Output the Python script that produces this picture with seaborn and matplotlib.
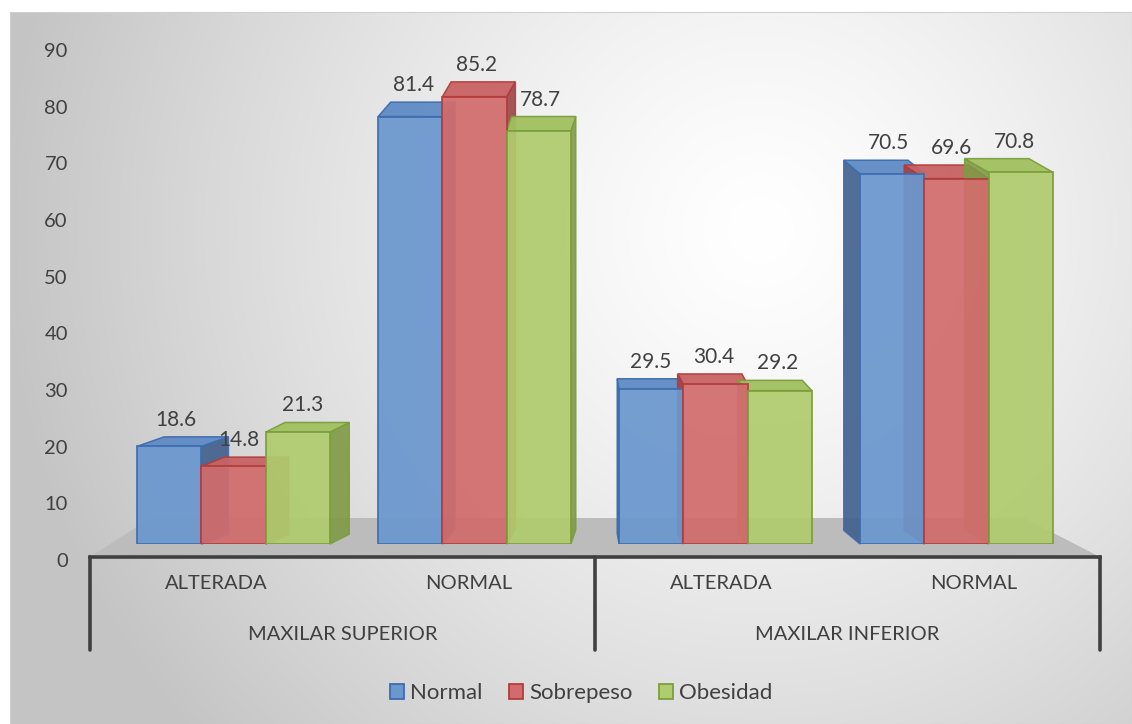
import matplotlib.pyplot as plt
import seaborn as sns
import numpy as np
import pandas as pd
from matplotlib.patches import Polygon, Patch

# Data
grupos = ['MAXILAR SUPERIOR', 'MAXILAR INFERIOR']
estados = ['ALTERADA', 'NORMAL']
series = ['Normal', 'Sobrepeso', 'Obesidad']
normal = [18.6, 81.4, 29.5, 70.5]
sobrepeso = [14.8, 85.2, 30.4, 69.6]
obesidad = [21.3, 78.7, 29.2, 70.8]

caras = ['#6A97CE', '#D26C6C', '#AFCC6E']
bordes = ['#3D6CB0', '#B23C3C', '#7B9F3B']
topes = ['#5F8BC4', '#C86262', '#A1C060']
lados = ['#3F5F8C', '#9E4444', '#7F9A45']
gris_txt = '#404040'

sns.set_style('white')
plt.rcParams['font.family'] = ['Lato', 'DejaVu Sans']
FS = 14.5

cats = [f'{g}|{e}' for g in grupos for e in estados]
df = pd.DataFrame({
    'cat': cats * 3,
    'serie': np.repeat(series, len(cats)),
    'valor': normal + sobrepeso + obesidad,
})

W, H = 1132, 724
fig = plt.figure(figsize=(W / 100, H / 100), dpi=100)

# ---------------------------------------------------------
# background with soft radial gradient
# ---------------------------------------------------------
bg = fig.add_axes([10 / W, 0, (W - 10) / W, (H - 12) / H])
yy, xx = np.mgrid[0:H - 12, 0:W - 10]
r = np.clip(np.hypot(xx - 750, yy - 218) / 760, 0, 1)
g = 1 - 0.23 * r ** 1.3
bg.imshow(np.dstack([g, g, g]), aspect='auto', interpolation='bilinear')
bg.set_xticks([])
bg.set_yticks([])
for s in bg.spines.values():
    s.set_color('#d0d0d0')

# ---------------------------------------------------------
# value axis + category axis
# ---------------------------------------------------------
ax_t = fig.add_axes([90 / W, (H - 560) / H, 1010 / W, 510 / H], facecolor='none')
ax_t.set_ylim(0, 90)
ax_t.set_xlim(0, 4)
ax_t.set_yticks(range(0, 91, 10))
ax_t.set_xticks([0.5, 1.5, 2.5, 3.5])
ax_t.set_xticklabels(estados * 2)
ax_t.tick_params(axis='y', length=0, pad=16, labelsize=FS, labelcolor=gris_txt)
ax_t.tick_params(axis='x', length=0, pad=11, labelsize=FS, labelcolor=gris_txt)
for s in ax_t.spines.values():
    s.set_visible(False)

tr = ax_t.get_xaxis_transform()
y_eje, y_fin = 3 / 510, -90 / 510
piso = Polygon([(0, y_eje), (0.24, 42 / 510), (3.70, 42 / 510), (4, y_eje)],
               closed=True, transform=tr, facecolor='#bcbcbc', edgecolor='none',
               clip_on=False, zorder=0)
ax_t.add_patch(piso)
ax_t.plot([0, 4], [y_eje, y_eje], transform=tr, color=gris_txt, lw=2.6,
          clip_on=False, solid_capstyle='projecting')
for xv in [0, 2, 4]:
    ax_t.plot([xv, xv], [y_eje, y_fin], transform=tr, color=gris_txt, lw=2.6,
              clip_on=False)
for i, gname in enumerate(grupos):
    ax_t.text(1 + 2 * i, -74 / 510, gname, transform=tr, ha='center', va='center',
              fontsize=FS, color=gris_txt)

# ---------------------------------------------------------
# bars (front faces from seaborn, depth faces derived from them)
# ---------------------------------------------------------
ax_b = fig.add_axes([113 / W, (H - 544) / H, 964 / W, 494 / H], facecolor='none')
sns.barplot(data=df, x='cat', y='valor', hue='serie', hue_order=series,
            order=cats, palette=caras, width=0.8, ax=ax_b, legend=False,
            saturation=1, zorder=3)
ax_b.set_xlim(-0.5, 3.5)
ax_b.set_ylim(0, 494 / 5.25)
ax_b.axis('off')

px_x = 964 / 4.0
px_y = 5.25
for k, cont in enumerate(ax_b.containers):
    for p in cont:
        x0, w, h = p.get_x(), p.get_width(), p.get_height()
        p.set_edgecolor(bordes[k])
        p.set_linewidth(1.3)
        p.set_alpha(0.93)
        xc = 113 + (x0 + w / 2 + 0.5) * px_x
        dx_px = 0.06 * (620 - xc)
        dy_px = 8 + 0.08 * h
        ddx, ddy = dx_px / px_x, dy_px / px_y
        top = [(x0, h), (x0 + w, h), (x0 + w + ddx, h + ddy), (x0 + ddx, h + ddy)]
        if ddx > 0:
            side = [(x0 + w, 0), (x0 + w + ddx, ddy), (x0 + w + ddx, h + ddy), (x0 + w, h)]
        else:
            side = [(x0, 0), (x0 + ddx, ddy), (x0 + ddx, h + ddy), (x0, h)]
        ax_b.add_patch(Polygon(side, closed=True, facecolor=lados[k],
                               edgecolor=bordes[k], lw=1.1, alpha=0.9,
                               zorder=2, clip_on=False))
        ax_b.add_patch(Polygon(top, closed=True, facecolor=topes[k],
                               edgecolor=bordes[k], lw=1.1, alpha=0.95,
                               zorder=2, clip_on=False))
        ax_b.annotate(f'{h:.1f}', (x0 + w / 2, h),
                      xytext=(dx_px * 0.25 / 1.389, (dy_px + 17) / 1.389),
                      textcoords='offset points', ha='center', va='center',
                      fontsize=15, color=gris_txt, annotation_clip=False, zorder=5)

# ---------------------------------------------------------
# legend
# ---------------------------------------------------------
handles = [Patch(facecolor=caras[i], edgecolor=bordes[i], lw=1.3, label=series[i])
           for i in range(3)]
fig.legend(handles=handles, loc='center', bbox_to_anchor=(581 / W, (H - 693) / H),
           ncol=3, frameon=False, fontsize=16, handlelength=0.65, handleheight=0.65,
           handletextpad=0.25, columnspacing=1.2, labelcolor=gris_txt)

fig.savefig('out.png', dpi=100)
